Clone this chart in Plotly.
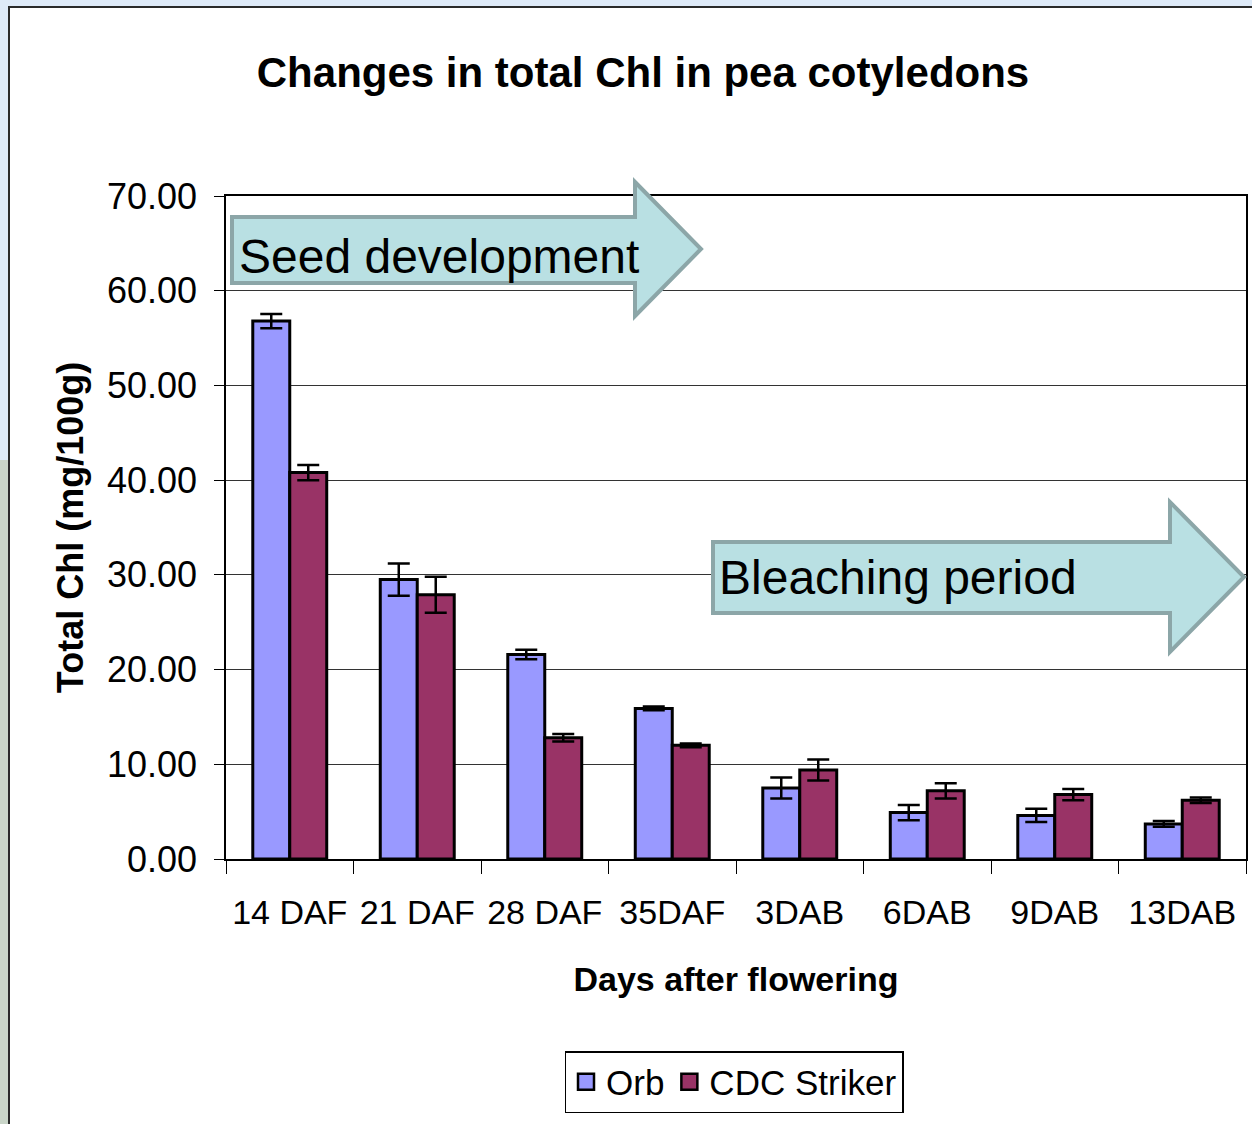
import plotly.graph_objects as go

categories = ["14 DAF", "21 DAF", "28 DAF", "35DAF", "3DAB", "6DAB", "9DAB", "13DAB"]
orb = [56.8, 29.5, 21.6, 15.9, 7.5, 4.9, 4.6, 3.7]
orb_err = [0.75, 1.7, 0.5, 0.2, 1.1, 0.8, 0.7, 0.3]
cdc = [40.8, 27.9, 12.8, 12.0, 9.4, 7.2, 6.8, 6.2]
cdc_err = [0.8, 1.9, 0.4, 0.2, 1.1, 0.8, 0.6, 0.3]
y_ticks = [0, 10, 20, 30, 40, 50, 60, 70]

W, H = 1252, 1124
L, R, T, B = 226, 1246, 196, 859
FONT = "Liberation Sans, Arial, sans-serif"
ORB_COLOR = "#9999FF"
CDC_COLOR = "#993366"


def px(x):
    return (x - L) / (R - L)


def py(y):
    return (B - y) / (B - T)


def path(points):
    return "M " + " L ".join(f"{px(x):.5f},{py(y):.5f}" for x, y in points) + " Z"


fig = go.Figure()
for name, vals, errs, color in [("Orb", orb, orb_err, ORB_COLOR), ("CDC Striker", cdc, cdc_err, CDC_COLOR)]:
    fig.add_trace(go.Bar(
        name=name, x=categories, y=vals, showlegend=False,
        marker=dict(color=color, line=dict(color="black", width=3)),
        error_y=dict(type="data", array=errs, visible=True, color="black", thickness=2.5, width=11),
    ))
# legend entries with larger square swatches
for name, color in [("Orb", ORB_COLOR), ("CDC Striker", CDC_COLOR)]:
    fig.add_trace(go.Scatter(
        name=name, x=[None], y=[None], mode="markers", showlegend=True,
        marker=dict(symbol="square", size=20, color=color, line=dict(color="black", width=2.5)),
    ))

shapes = [
    dict(type="rect", xref="paper", yref="paper", layer="below",
         x0=px(-5), x1=px(9), y0=py(460), y1=py(1130),
         fillcolor="#C9D5C8", line=dict(width=0)),
    dict(type="rect", xref="paper", yref="paper", layer="below",
         x0=px(9), x1=px(1260), y0=py(7), y1=py(1130),
         fillcolor="white", line=dict(color="#2a2a2a", width=2)),
    dict(type="path", xref="paper", yref="paper", layer="above",
         path=path([(232, 217), (635, 217), (635, 182), (701, 249), (635, 316), (635, 283), (232, 283)]),
         fillcolor="#B9E0E3", line=dict(color="#8CA6A8", width=4)),
    dict(type="path", xref="paper", yref="paper", layer="above",
         path=path([(713, 542), (1170, 542), (1170, 502), (1244, 577), (1170, 652), (1170, 613), (713, 613)]),
         fillcolor="#B9E0E3", line=dict(color="#8CA6A8", width=4)),
]

annotations = [
    dict(text="Seed development", xref="paper", yref="paper", x=px(237), y=py(256),
         xanchor="left", yanchor="middle", showarrow=False,
         font=dict(family=FONT, size=48, color="black")),
    dict(text="Bleaching period", xref="paper", yref="paper", x=px(717), y=py(577),
         xanchor="left", yanchor="middle", showarrow=False,
         font=dict(family=FONT, size=48, color="black")),
]

fig.update_layout(
    width=W, height=H,
    margin=dict(l=L, r=W - R, t=T, b=H - B, autoexpand=False),
    paper_bgcolor="#DEEAF8",
    plot_bgcolor="rgba(0,0,0,0)",
    barmode="group", bargap=0.42, bargroupgap=0,
    font=dict(family=FONT, size=34, color="black"),
    title=dict(text="Changes in total Chl in pea cotyledons", x=643 / W, xanchor="center",
               y=1 - 72 / H, yanchor="middle",
               font=dict(family=FONT, size=42, weight="bold", color="black")),
    showlegend=True,
    legend=dict(orientation="h", x=px(734), xanchor="center", y=py(1051), yanchor="top",
                bgcolor="white", bordercolor="black", borderwidth=1.5,
                itemwidth=30, tracegroupgap=0,
                font=dict(family=FONT, size=35, color="black"), traceorder="normal"),
    shapes=shapes,
    annotations=annotations,
)

fig.update_xaxes(
    type="category", showline=True, linecolor="black", linewidth=1.5, mirror=True,
    ticks="outside", tickson="boundaries", ticklen=13, tickcolor="black", tickwidth=1.2,
    ticklabelstandoff=22, tickfont=dict(family=FONT, size=34),
    showgrid=False,
    title=dict(text="Days after flowering", standoff=38,
               font=dict(family=FONT, size=34, weight="bold")),
)
fig.update_yaxes(
    range=[0, 70], tickvals=y_ticks, ticktext=[f"{v:.2f}" for v in y_ticks],
    showline=True, linecolor="black", linewidth=1.5, mirror=True,
    ticks="outside", ticklen=10, tickcolor="black", tickwidth=1.2,
    ticklabelstandoff=10, tickfont=dict(family=FONT, size=36),
    showgrid=True, gridcolor="#333333", gridwidth=1, zeroline=False,
    title=dict(text="Total Chl (mg/100g)", standoff=12,
               font=dict(family=FONT, size=36, weight="bold")),
)

fig.write_html(
    "out.html",
    config={"displayModeBar": False},
    post_script="document.body.style.margin='0px';document.body.style.background='#DEEAF8';",
)
